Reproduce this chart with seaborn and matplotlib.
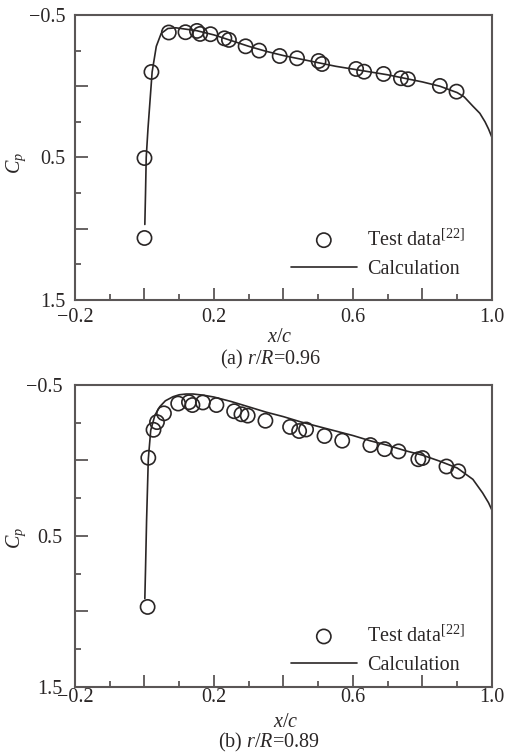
import numpy as np
import pandas as pd
import matplotlib
matplotlib.use("Agg")
import matplotlib.pyplot as plt
from matplotlib.ticker import FixedLocator, MultipleLocator, FuncFormatter
import seaborn as sns

# ---- (a) r/R = 0.96 ----
test_x_a = [0.0, 0.0, 0.02, 0.070, 0.118, 0.151, 0.160, 0.190, 0.230, 0.243, 0.291,
            0.330, 0.389, 0.439, 0.501, 0.511, 0.609, 0.632, 0.688, 0.738, 0.758,
            0.850, 0.898]
test_cp_a = [1.065, 0.504, -0.100, -0.377, -0.379, -0.388, -0.367, -0.365, -0.336,
             -0.325, -0.280, -0.250, -0.212, -0.196, -0.177, -0.156, -0.121, -0.102,
             -0.086, -0.056, -0.049, -0.002, 0.038]
calc_x_a = [0.001, 0.003, 0.005, 0.010, 0.016, 0.022, 0.034, 0.048, 0.067, 0.09,
            0.12, 0.15, 0.20, 0.25, 0.30, 0.35, 0.40, 0.45, 0.50, 0.55, 0.60, 0.65,
            0.70, 0.75, 0.80, 0.85, 0.90, 0.92, 0.945, 0.965, 0.98, 0.99, 1.0]
calc_cp_a = [0.97, 0.75, 0.50, 0.30, 0.10, -0.10, -0.28, -0.37, -0.405, -0.41,
             -0.40, -0.39, -0.36, -0.32, -0.28, -0.245, -0.215, -0.19, -0.165, -0.14,
             -0.12, -0.10, -0.08, -0.055, -0.03, 0.0, 0.045, 0.075, 0.14, 0.19, 0.25,
             0.30, 0.36]

# ---- (b) r/R = 0.89 ----
test_x_b = [0.009, 0.011, 0.026, 0.036, 0.056, 0.097, 0.128, 0.138, 0.168, 0.207,
            0.258, 0.279, 0.297, 0.348, 0.419, 0.445, 0.465, 0.518, 0.569, 0.650,
            0.691, 0.731, 0.788, 0.800, 0.869, 0.903]
test_cp_b = [0.970, -0.018, -0.203, -0.254, -0.312, -0.377, -0.386, -0.367, -0.384,
             -0.367, -0.326, -0.306, -0.297, -0.263, -0.222, -0.195, -0.205, -0.162,
             -0.131, -0.102, -0.075, -0.060, -0.008, -0.016, 0.040, 0.072]
calc_x_b = [0.001, 0.003, 0.006, 0.011, 0.018, 0.03, 0.044, 0.06, 0.082, 0.10, 0.12,
            0.14, 0.17, 0.20, 0.25, 0.30, 0.35, 0.40, 0.45, 0.50, 0.55, 0.60, 0.65,
            0.70, 0.75, 0.80, 0.85, 0.90, 0.945, 0.973, 0.99, 1.0]
calc_cp_b = [0.915, 0.72, 0.40, -0.01, -0.20, -0.30, -0.356, -0.395, -0.422, -0.435,
             -0.44, -0.44, -0.432, -0.42, -0.39, -0.355, -0.32, -0.29, -0.255, -0.225,
             -0.195, -0.165, -0.13, -0.10, -0.065, -0.035, 0.005, 0.05, 0.125, 0.215,
             0.28, 0.33]

x_major = [-0.2, 0.0, 0.2, 0.4, 0.6, 0.8, 1.0]
x_labeled = [-0.2, 0.2, 0.6, 1.0]
y_major = [-0.5, 0.0, 0.5, 1.0, 1.5]
y_labeled = [-0.5, 0.5, 1.5]

panels = [
    dict(tx=test_x_a, ty=test_cp_a, cx=calc_x_a, cy=calc_cp_a,
         caption="(a) $r/R$=0.96", rect=[0.1476, 0.6032, 0.8209, 0.3770],
         xpad=5.5, xlab=(0.49, -0.100), ylab_y=0.48, cap=(0.533, 1 - 359 / 756),
         legend_anchor=(0.935, 0.075), ypad=7),
    dict(tx=test_x_b, ty=test_cp_b, cx=calc_x_b, cy=calc_cp_b,
         caption="(b) $r/R$=0.89", rect=[0.1476, 0.0913, 0.8209, 0.3995],
         xpad=1.0, xlab=(0.505, -0.087), ylab_y=0.493, cap=(0.530, 1 - 742 / 756),
         legend_anchor=(0.935, 0.040), ypad=9),
]

sns.set_theme(style="white")
plt.rcParams["font.family"] = ["Liberation Serif", "DejaVu Serif"]
plt.rcParams["mathtext.fontset"] = "custom"
plt.rcParams["mathtext.rm"] = "Liberation Serif"
plt.rcParams["mathtext.it"] = "Liberation Serif:italic"
plt.rcParams["axes.unicode_minus"] = True

spine_col = "#5a5656"
ink = "#2a2626"
fs = 14.5

fig = plt.figure(figsize=(5.08, 7.56), dpi=100)


def fmt_factory(labeled):
    def f(v, pos):
        for l in labeled:
            if abs(v - l) < 1e-6:
                return f"{v:.1f}".replace("-", "\u2212")
        return ""
    return FuncFormatter(f)


for p in panels:
    ax = fig.add_axes(p["rect"])
    calc = pd.DataFrame({"x": p["cx"], "cp": p["cy"]})
    test = pd.DataFrame({"x": p["tx"], "cp": p["ty"]})
    sns.lineplot(data=calc, x="x", y="cp", ax=ax, sort=False, estimator=None,
                 color=ink, linewidth=1.2, label="Calculation")
    sns.scatterplot(data=test, x="x", y="cp", ax=ax, marker="o", s=105,
                    facecolor="none", edgecolor=ink, linewidth=1.2,
                    label="Test data$^{\\mathrm{[22]}}$", zorder=3)

    ax.set_xlim(-0.2, 1.0)
    ax.set_ylim(1.5, -0.5)
    ax.xaxis.set_major_locator(FixedLocator(x_major))
    ax.xaxis.set_minor_locator(MultipleLocator(0.1))
    ax.yaxis.set_major_locator(FixedLocator(y_major))
    ax.yaxis.set_minor_locator(MultipleLocator(0.25))
    ax.xaxis.set_major_formatter(fmt_factory(x_labeled))
    ax.yaxis.set_major_formatter(fmt_factory(y_labeled))

    for s in ax.spines.values():
        s.set_color(spine_col)
        s.set_linewidth(1.5)
    ax.tick_params(which="both", direction="in", colors=spine_col, width=1.3,
                   top=False, right=False, left=True, bottom=True,
                   labelcolor=ink, labelsize=fs)
    ax.tick_params(which="major", length=9)
    ax.tick_params(which="minor", length=4.5)
    ax.tick_params(axis="x", which="major", pad=p["xpad"])
    ax.tick_params(axis="y", which="major", pad=p["ypad"])

    ax.set_xlabel("$x/c$", fontsize=fs, color=ink)
    ax.xaxis.set_label_coords(*p["xlab"])
    ax.set_ylabel("$C_p$", fontsize=fs, color=ink)
    ax.yaxis.set_label_coords(-0.113, p["ylab_y"])

    handles, labels = ax.get_legend_handles_labels()
    order = [1, 0]
    leg = ax.legend([handles[i] for i in order], [labels[i] for i in order],
                    loc="lower right", bbox_to_anchor=p["legend_anchor"],
                    frameon=False, fontsize=fs, handlelength=3.3,
                    handletextpad=0.5, labelspacing=0.45, borderpad=0.0,
                    borderaxespad=0.0)
    for t in leg.get_texts():
        t.set_color(ink)

    fig.text(p["cap"][0], p["cap"][1], p["caption"], ha="center", va="center",
             fontsize=fs, color=ink)

fig.savefig("out.png", dpi=100)
